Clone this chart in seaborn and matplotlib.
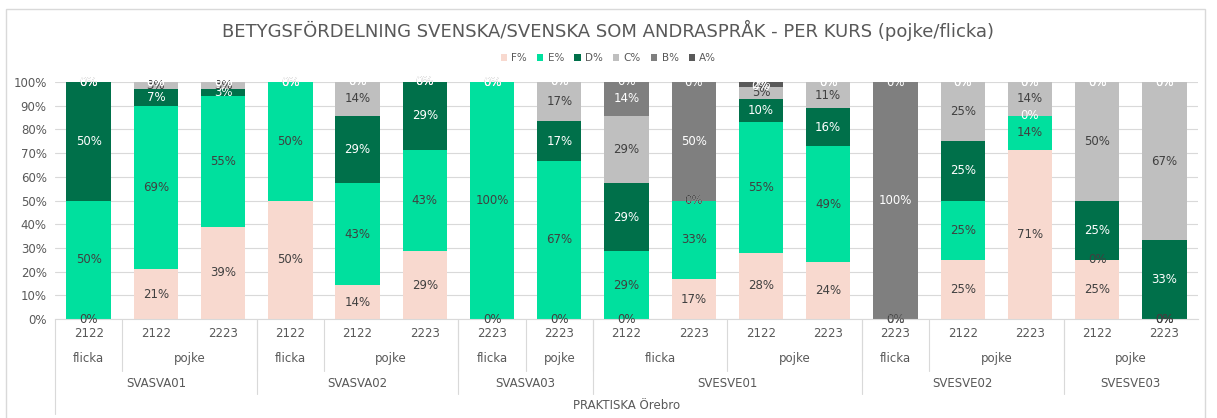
import numpy as np
import pandas as pd
import matplotlib
matplotlib.use("Agg")
import matplotlib.pyplot as plt
import seaborn as sns
from matplotlib.patches import Patch, Rectangle
from matplotlib.lines import Line2D

# categories (three levels of the x axis)
courses = ["SVASVA01"] * 3 + ["SVASVA02"] * 3 + ["SVASVA03"] * 2 + ["SVESVE01"] * 4 + ["SVESVE02"] * 3 + ["SVESVE03"] * 2
sexes = ["flicka", "pojke", "pojke", "flicka", "pojke", "pojke", "flicka", "pojke",
         "flicka", "flicka", "pojke", "pojke", "flicka", "pojke", "pojke", "pojke", "pojke"]
years = ["2122", "2122", "2223", "2122", "2122", "2223", "2223", "2223",
         "2122", "2223", "2122", "2223", "2223", "2122", "2223", "2122", "2223"]
school = "PRAKTISKA Örebro"

# share of grades per bar (%)
F = [0, 21, 39, 50, 14.3, 28.6, 0, 0, 0, 16.7, 28, 24, 0, 25, 71.4, 25, 0]
E = [50, 69, 55, 50, 42.9, 42.9, 100, 66.7, 28.6, 33.3, 55, 49, 0, 25, 14.3, 0, 0]
D = [50, 7, 3, 0, 28.6, 28.6, 0, 16.7, 28.6, 0, 10, 16, 0, 25, 0, 25, 33.3]
C = [0, 3, 3, 0, 14.3, 0, 0, 16.7, 28.6, 0, 5, 11, 0, 25, 14.3, 50, 66.7]
B = [0, 0, 0, 0, 0, 0, 0, 0, 14.3, 50, 0, 0, 100, 0, 0, 0, 0]
A = [0, 0, 0, 0, 0, 0, 0, 0, 0, 0, 2, 0, 0, 0, 0, 0, 0]

grades = ["F%", "E%", "D%", "C%", "B%", "A%"]
colors = {"F%": "#F8D9CF", "E%": "#00E09E", "D%": "#00704A",
          "C%": "#BFBFBF", "B%": "#7F7F7F", "A%": "#595959"}
label_colors = {"F%": "#404040", "E%": "#404040", "D%": "white",
                "C%": "#404040", "B%": "white", "A%": "white"}

df = pd.DataFrame({"pos": range(len(years)), "F%": F, "E%": E, "D%": D,
                   "C%": C, "B%": B, "A%": A})
cum = df[grades].cumsum(axis=1)

sns.set_style("white")
plt.rcParams["font.family"] = ["DejaVu Sans"]
txt = "#595959"

fig = plt.figure(figsize=(12.17, 4.18), dpi=100)
ax = fig.add_axes([0.0452, 0.2368, 0.9392, 0.567])

# stacked bars: draw cumulative totals from the top series down
for g in reversed(grades):
    sns.barplot(x=df["pos"], y=cum[g], color=colors[g], saturation=1,
                width=0.66, errorbar=None, linewidth=0, ax=ax)

# data labels
for i in range(len(df)):
    bottom = 0
    for g in grades:
        v = df.loc[i, g]
        ax.text(i, bottom + v / 2, f"{v:.0f}%", ha="center", va="center",
                fontsize=8.5, color=label_colors[g])
        bottom += v

ax.set_ylim(0, 100)
ax.set_xlim(-0.5, len(df) - 0.5)
ax.set_yticks(np.arange(0, 101, 10))
ax.set_yticklabels([f"{t}%" for t in range(0, 101, 10)], color=txt, fontsize=8.5)
ax.yaxis.grid(True, color="#D9D9D9", linewidth=0.8)
ax.set_axisbelow(True)
ax.set_xticks([])
ax.set_xlabel("")
ax.set_ylabel("")
ax.tick_params(axis="y", length=0, pad=6)
for s in ["top", "right", "left"]:
    ax.spines[s].set_visible(False)
ax.spines["bottom"].set_color("#D9D9D9")

# multi-level category axis
tr = ax.get_xaxis_transform()
for i, y in enumerate(years):
    ax.text(i, -0.06, y, transform=tr, ha="center", va="center", fontsize=8.5, color=txt)

def groups(keys):
    out = []
    start = 0
    for i in range(1, len(keys) + 1):
        if i == len(keys) or keys[i] != keys[start]:
            out.append((start, i - 1))
            start = i
    return out

sex_keys = list(zip(courses, sexes))
for a, b in groups(sex_keys):
    ax.text((a + b) / 2, -0.165, sexes[a], transform=tr, ha="center", va="center",
            fontsize=8.5, color=txt)
for a, b in groups(courses):
    ax.text((a + b) / 2, -0.27, courses[a], transform=tr, ha="center", va="center",
            fontsize=8.5, color=txt)
ax.text((len(df) - 1) / 2, -0.365, school, transform=tr, ha="center", va="center",
        fontsize=8.5, color=txt)

line_kw = dict(transform=tr, color="#D9D9D9", linewidth=0.8, clip_on=False)
for a, b in groups(sex_keys)[:-1]:
    ax.add_line(Line2D([b + 0.5, b + 0.5], [0, -0.22], **line_kw))
for a, b in groups(courses)[:-1]:
    ax.add_line(Line2D([b + 0.5, b + 0.5], [0, -0.315], **line_kw))
ax.add_line(Line2D([-0.5, -0.5], [0, -0.4], **line_kw))

# title and legend
fig.text(0.5, 0.928, "BETYGSFÖRDELNING SVENSKA/SVENSKA SOM ANDRASPRÅK - PER KURS (pojke/flicka)",
         ha="center", va="center", fontsize=13, color=txt)
handles = [Patch(facecolor=colors[g], edgecolor="none", label=g) for g in grades]
fig.legend(handles=handles, loc="center", bbox_to_anchor=(0.5, 1 - 58 / 418), ncol=6,
           frameon=False, fontsize=7.5, handlelength=0.6, handleheight=0.6,
           handletextpad=0.4, columnspacing=1.0, labelcolor=txt)

# chart frame
fig.patches.append(Rectangle((6 / 1217, -0.01), 1199 / 1217, 1 - 9 / 418 + 0.01,
                             transform=fig.transFigure, fill=False,
                             edgecolor="#D9D9D9", linewidth=1))

fig.savefig("out.png", dpi=100)
